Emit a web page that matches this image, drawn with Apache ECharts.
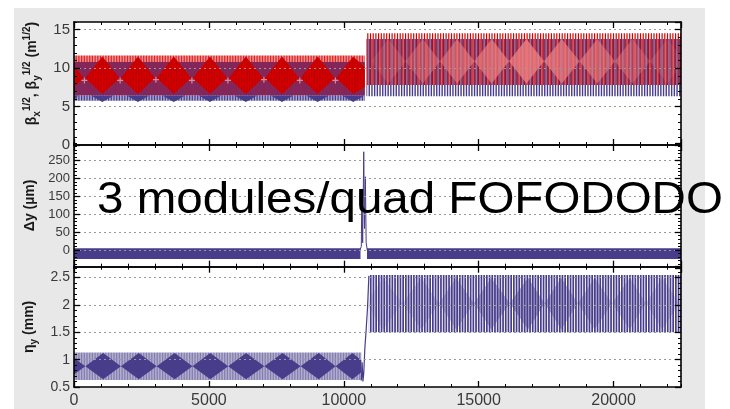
<!DOCTYPE html>
<html><head><meta charset="utf-8">
<script src="https://cdn.jsdelivr.net/npm/echarts@6/dist/echarts.min.js"></script>
<style>html,body{margin:0;padding:0;background:#fff}#c{width:730px;height:409px}</style>
</head><body><div id="c"></div>
<script>
// ---------------- axis ranges & ticks ----------------
const X_RANGE = [0, 22500];
const xMajorStep = 5000, xMinorStep = 1000;
const betaRange = [0, 16], betaStep = 5, betaMinor = 1;
const dyRange = [-50, 300], dyStep = 50, dyMinor = 10;
const etaRange = [0.5, 2.7], etaStep = 0.5, etaMinor = 0.1;

// ---------------- top panel: sqrt(beta) ----------------
const betaLeftX = [0, 10780];
const betaPinkLo = [6.45, 6.45], betaPinkHi = [11.65, 11.65];
const betaMaroonLo = [6.45, 6.45], betaMaroonHi = [10.8, 10.8];
const betaLavLo = [5.75, 5.75], betaLavHi = [6.45, 6.45];
const betaRedX = [0, 360, 410, 1050, 1690, 1730, 2370, 3010, 3060, 3700, 4340, 4400, 5040, 5680, 5730, 6370, 7010, 7070, 7710, 8350, 8390, 9030, 9670, 9710, 10350, 10780];
const betaRedHi = [10.3, 8.7, 8.7, 11.5, 8.7, 8.7, 11.5, 8.7, 8.7, 11.5, 8.7, 8.7, 11.5, 8.7, 8.7, 11.5, 8.7, 8.7, 11.5, 8.7, 8.7, 11.5, 8.7, 8.7, 11.5, 10.1];
const betaRedLo = [7.5, 8.7, 8.7, 6.65, 8.7, 8.7, 6.65, 8.7, 8.7, 6.65, 8.7, 8.7, 6.65, 8.7, 8.7, 6.65, 8.7, 8.7, 6.65, 8.7, 8.7, 6.65, 8.7, 8.7, 6.65, 7.5];
const betaNavyX = [0, 160, 630, 1050, 1470, 1950, 2370, 2790, 3280, 3700, 4120, 4620, 5040, 5460, 5950, 6370, 6790, 7290, 7710, 8130, 8610, 9030, 9450, 9930, 10350, 10770];
const betaNavyHi = [6.45, 6.45, 6.45, 6.45, 6.45, 6.45, 6.45, 6.45, 6.45, 6.45, 6.45, 6.45, 6.45, 6.45, 6.45, 6.45, 6.45, 6.45, 6.45, 6.45, 6.45, 6.45, 6.45, 6.45, 6.45, 6.45];
const betaNavyLo = [5.9, 6.45, 6.45, 5.6, 6.45, 6.45, 5.6, 6.45, 6.45, 5.6, 6.45, 6.45, 5.6, 6.45, 6.45, 5.6, 6.45, 6.45, 5.6, 6.45, 6.45, 5.6, 6.45, 6.45, 5.6, 6.45];
const betaCrossX = [385, 1710, 3035, 4370, 5705, 7040, 8370, 9690];
const betaCrossY = [8.4, 8.4, 8.5, 8.4, 8.4, 8.5, 8.4, 8.4];
const betaRightX = [10840, 22500];
const betaRedStripeLo = [7.8, 7.8], betaRedStripeHi = [14.55, 14.55];
const betaNavyStripeLo = [6.35, 6.35], betaNavyStripeHi = [13.8, 13.8];
const betaPinkDX = [11010, 11650, 12290, 12930, 13565, 14200, 14840, 15480, 16125, 16770, 17425, 18080, 18740, 19400, 20050, 20700, 21350, 22000, 22500];
const betaPinkDHi = [10.9, 13.8, 10.9, 13.8, 10.9, 13.8, 10.9, 13.8, 10.9, 13.8, 10.9, 13.8, 10.9, 13.8, 10.9, 13.8, 10.9, 13.8, 11.5];
const betaPinkDLo = [10.9, 8.0, 10.9, 8.0, 10.9, 8.0, 10.9, 8.0, 10.9, 8.0, 10.9, 8.0, 10.9, 8.0, 10.9, 8.0, 10.9, 8.0, 10.3];

// ---------------- middle panel: delta y ----------------
const dyLeftX = [0, 10620], dyRightX = [10860, 22500];
const dyBandLo = [-25, -25], dyBandHi = [5, 5];
const dySpikeX = [10600, 10650, 10670, 10700, 10740, 10770, 10800, 10830, 10870];
const dySpikeY = [0, 10, 170, 20, 275, 60, 205, 20, 0];

// ---------------- bottom panel: eta_y ----------------
const etaLeftX = [0, 10650];
const etaBandLo = [0.63, 0.63], etaBandHi = [1.13, 1.13];
const etaDarkX = [0, 420, 1080, 1740, 2400, 3065, 3730, 4390, 5050, 5715, 6380, 7055, 7730, 8400, 9070, 9695, 10320, 10650];
const etaDarkHi = [1.03, 0.88, 1.12, 0.88, 1.12, 0.88, 1.12, 0.88, 1.12, 0.88, 1.12, 0.88, 1.12, 0.88, 1.12, 0.88, 1.12, 0.99];
const etaDarkLo = [0.73, 0.88, 0.64, 0.88, 0.64, 0.88, 0.64, 0.88, 0.64, 0.88, 0.64, 0.88, 0.64, 0.88, 0.64, 0.88, 0.64, 0.77];
const etaJumpX = [10650, 10680, 10710, 10740, 10780, 10830, 10880, 10930];
const etaJumpY = [0.62, 0.95, 0.6, 0.75, 1.2, 1.55, 1.95, 2.53];
const etaRightX = [10930, 22500];
const etaStripeLo = [1.5, 1.5], etaStripeHi = [2.55, 2.55];
const etaLavX = [10930, 11460, 12170, 12880, 13525, 14170, 14820, 15470, 16150, 16830, 17445, 18060, 18680, 19300, 19950, 20600, 21200, 21800, 22450, 22500];
const etaLavHi = [2.11, 2.5, 2.03, 2.5, 2.03, 2.5, 2.03, 2.5, 2.03, 2.5, 2.03, 2.5, 2.03, 2.5, 2.03, 2.5, 2.03, 2.5, 2.03, 2.03];
const etaLavLo = [1.95, 1.55, 2.03, 1.55, 2.03, 1.55, 2.03, 1.55, 2.03, 1.55, 2.03, 1.55, 2.03, 1.55, 2.03, 1.55, 2.03, 1.55, 2.03, 2.03];

// ---------------- styling ----------------
const RED = '#d40000', NAVY = '#483d8b';
const FONT = 'Liberation Sans, Arial, sans-serif';

function stripes(color, offset, width, bg) {
  const c = document.createElement('canvas');
  c.width = 27; c.height = 2;
  const g = c.getContext('2d');
  if (bg) { g.fillStyle = bg; g.fillRect(0, 0, 27, 2); }
  g.fillStyle = color;
  for (let i = 0; i < 10; i++) {
    const x = i * 2.7 + offset;
    g.fillRect(x, 0, width, 2);
    if (x + width > 27) g.fillRect(x - 27, 0, width, 2);
  }
  return { image: c, repeat: 'repeat' };
}

function band(g, xs, lo, hi, fill, z) {
  return {
    type: 'custom', xAxisIndex: g, yAxisIndex: g, z: z, silent: true,
    data: xs.map((x, i) => [x, lo[i], hi[i]]),
    encode: { x: 0, y: [1, 2] },
    renderItem: function (params, api) {
      if (params.dataIndex !== 0) return null;
      const top = xs.map((x, i) => api.coord([x, hi[i]]));
      const bot = xs.map((x, i) => api.coord([x, lo[i]])).reverse();
      return { type: 'polygon', shape: { points: top.concat(bot) }, style: { fill: fill } };
    }
  };
}
function zip(xs, ys) { return xs.map((x, i) => [x, ys[i]]); }

const grids = [
  { left: 74, width: 607, top: 22, height: 123 },
  { left: 74, width: 607, top: 142.84, height: 125.02 },
  { left: 74, width: 607, top: 266.7, height: 121 }
].map(g => Object.assign({ show: true, backgroundColor: '#fff', borderWidth: 0 }, g));

const xOffsets = [{ top: 0, bottom: 0 }, { top: -2.16, bottom: -1.16 }, { top: 0, bottom: 0 }];
const xAxes = [];
[0, 1, 2].forEach(g => xAxes.push({
  type: 'value', gridIndex: g, position: 'bottom', offset: xOffsets[g].bottom,
  min: X_RANGE[0], max: X_RANGE[1], interval: xMajorStep, z: 10,
  axisLine: { show: true, onZero: false, lineStyle: { color: '#000', width: 1.6 } },
  axisTick: { show: true, inside: true, length: 6, lineStyle: { color: '#000', width: 1.3 } },
  axisLabel: { show: g === 2, fontSize: 16, color: '#3a3a3a', margin: 6, fontFamily: FONT, showMaxLabel: false,
    formatter: v => String(v) },
  splitLine: { show: false }
}));
[0, 1, 2].forEach(g => xAxes.push({
  type: 'value', gridIndex: g, position: 'top', offset: xOffsets[g].top,
  min: X_RANGE[0], max: X_RANGE[1], interval: xMajorStep, z: 10,
  axisLine: { show: true, onZero: false, lineStyle: { color: '#000', width: 1.6 } },
  axisTick: { show: true, inside: true, length: 6, lineStyle: { color: '#000', width: 1.3 } },
  axisLabel: { show: false }, splitLine: { show: false }
}));
[0, 1, 2].forEach(g => ['bottom', 'top'].forEach(pos => xAxes.push({
  type: 'value', gridIndex: g, position: pos, offset: xOffsets[g][pos],
  min: X_RANGE[0], max: X_RANGE[1], interval: xMinorStep, z: 10,
  axisLine: { show: false, onZero: false },
  axisTick: { show: true, inside: true, length: 3, lineStyle: { color: '#000', width: 1 } },
  axisLabel: { show: false }, splitLine: { show: false }
})));

const yCfg = [
  { range: betaRange, step: betaStep, minor: betaMinor, fs: 15, nameGap: 22,
    name: '{b|β}{s|x}{p|1/2}{b|, β}{s|y}{p|1/2}{b| (m}{p|1/2}{b|)}', pad: [0, 0, 0, 20] },
  { range: dyRange, step: dyStep, minor: dyMinor, fs: 13, nameGap: 26,
    name: '{b|Δy (µm)}', pad: [0, 0, 0, 0] },
  { range: etaRange, step: etaStep, minor: etaMinor, fs: 14, nameGap: 25,
    name: '{b|η}{s|y}{b| (mm)}', pad: [0, 0, 0, 0] }
];
const rich = {
  b: { fontSize: 14, fontWeight: 'bold', color: '#1a1a1a', fontFamily: FONT, lineHeight: 20 },
  s: { fontSize: 10, fontWeight: 'bold', color: '#1a1a1a', fontFamily: FONT, verticalAlign: 'bottom', lineHeight: 10 },
  p: { fontSize: 10, fontWeight: 'bold', color: '#1a1a1a', fontFamily: FONT, verticalAlign: 'top', lineHeight: 10 }
};
const yAxes = [];
yCfg.forEach((c, g) => yAxes.push({
  type: 'value', gridIndex: g, position: 'left', min: c.range[0], max: c.range[1], interval: c.step, z: 10,
  axisLine: { show: true, onZero: false, lineStyle: { color: '#000', width: 1.6 } },
  axisTick: { show: true, inside: true, length: 6, lineStyle: { color: '#000', width: 1.3 } },
  axisLabel: { fontSize: c.fs, color: '#3a3a3a', margin: 4, fontFamily: FONT, showMinLabel: g !== 1, showMaxLabel: false },
  splitLine: { show: true, showMinLine: false, showMaxLine: false, lineStyle: { color: '#9a9a9a', type: [2, 3], width: 1 } },
  name: c.name, nameLocation: 'middle', nameGap: c.nameGap,
  nameTextStyle: { rich: rich, padding: c.pad }
}));
yCfg.forEach((c, g) => yAxes.push({
  type: 'value', gridIndex: g, position: 'right', min: c.range[0], max: c.range[1], interval: c.step, z: 10,
  axisLine: { show: true, onZero: false, lineStyle: { color: '#000', width: 1.6 } },
  axisTick: { show: true, inside: true, length: 6, lineStyle: { color: '#000', width: 1.3 } },
  axisLabel: { show: false }, splitLine: { show: false }
}));
yCfg.forEach((c, g) => ['left', 'right'].forEach(pos => yAxes.push({
  type: 'value', gridIndex: g, position: pos, min: c.range[0], max: c.range[1], interval: c.minor, z: 10,
  axisLine: { show: false, onZero: false },
  axisTick: { show: true, inside: true, length: 3, lineStyle: { color: '#000', width: 1 } },
  axisLabel: { show: false }, splitLine: { show: false }
})));

const pinkGrad = new echarts.graphic.LinearGradient(0, 0, 1, 0, [
  { offset: 0, color: 'rgba(240,128,128,0.15)' }, { offset: 0.22, color: 'rgba(240,128,128,0.5)' },
  { offset: 0.5, color: 'rgba(240,128,128,0.8)' }, { offset: 0.75, color: 'rgba(240,128,128,0.55)' },
  { offset: 1, color: 'rgba(240,128,128,0.1)' }]);
const lavGrad = new echarts.graphic.LinearGradient(0, 0, 1, 0, [
  { offset: 0, color: 'rgba(72,61,139,0.12)' }, { offset: 0.25, color: 'rgba(72,61,139,0.28)' },
  { offset: 0.51, color: 'rgba(72,61,139,0.45)' }, { offset: 0.75, color: 'rgba(72,61,139,0.3)' },
  { offset: 1, color: 'rgba(72,61,139,0.2)' }]);

const series = [
  band(0, betaLeftX, betaPinkLo, betaPinkHi, stripes('rgba(212,0,0,0.75)', 0, 1.2, '#ee9090'), 2),
  band(0, betaLeftX, betaMaroonLo, betaMaroonHi, stripes('rgba(72,61,139,0.35)', 1.35, 1.0, '#8e2452'), 3),
  band(0, betaLeftX, betaLavLo, betaLavHi, stripes(NAVY, 0, 1.2, '#aaa6d1'), 3),
  band(0, betaNavyX, betaNavyLo, betaNavyHi, NAVY, 4),
  band(0, betaRedX, betaRedLo, betaRedHi, stripes('#c00000', 0.6, 1.2, RED), 5),
  { type: 'scatter', xAxisIndex: 0, yAxisIndex: 0, z: 6, silent: true, data: zip(betaCrossX, betaCrossY),
    symbol: 'path://M4 0H6V4H10V6H6V10H4V6H0V4H4Z', symbolSize: 6, itemStyle: { color: '#f3a4a4' } },
  band(0, betaRightX, betaNavyStripeLo, betaNavyStripeHi, stripes(NAVY, 1.35, 1.4), 3),
  band(0, betaRightX, betaRedStripeLo, betaRedStripeHi, stripes(RED, 0, 1.2), 4),
  band(0, betaPinkDX, betaPinkDLo, betaPinkDHi, pinkGrad, 5),
  band(1, dyLeftX, dyBandLo, dyBandHi, NAVY, 2),
  band(1, dyRightX, dyBandLo, dyBandHi, NAVY, 2),
  { type: 'line', xAxisIndex: 1, yAxisIndex: 1, z: 3, silent: true, data: zip(dySpikeX, dySpikeY),
    symbol: 'none', lineStyle: { color: NAVY, width: 1 } },
  band(2, etaLeftX, etaBandLo, etaBandHi, stripes('rgba(72,61,139,0.45)', 0, 1.2, 'rgba(72,61,139,0.42)'), 2),
  band(2, etaDarkX, etaDarkLo, etaDarkHi, NAVY, 3),
  { type: 'line', xAxisIndex: 2, yAxisIndex: 2, z: 4, silent: true, data: zip(etaJumpX, etaJumpY),
    symbol: 'none', lineStyle: { color: NAVY, width: 1.2 } },
  band(2, etaLavX, etaLavLo, etaLavHi, lavGrad, 2),
  band(2, etaRightX, etaStripeLo, etaStripeHi, stripes(NAVY, 0, 1.7), 3)
];

const chart = echarts.init(document.getElementById('c'), null, { renderer: 'canvas' });
chart.setOption({
  animation: false,
  textStyle: { fontFamily: FONT },
  grid: grids,
  xAxis: xAxes,
  yAxis: yAxes,
  series: series,
  graphic: [
    { type: 'rect', z: -10, silent: true, shape: { x: 14, y: 8, width: 691, height: 401 }, style: { fill: '#e8e8e8' } },
    { type: 'text', z: 100, silent: true, x: 97, y: 201, scaleX: 1.08,
      style: { text: '3 modules/quad FOFODODO', fontSize: 44, fontFamily: FONT, fill: '#000', align: 'left', verticalAlign: 'middle' } }
  ]
});
</script></body></html>
